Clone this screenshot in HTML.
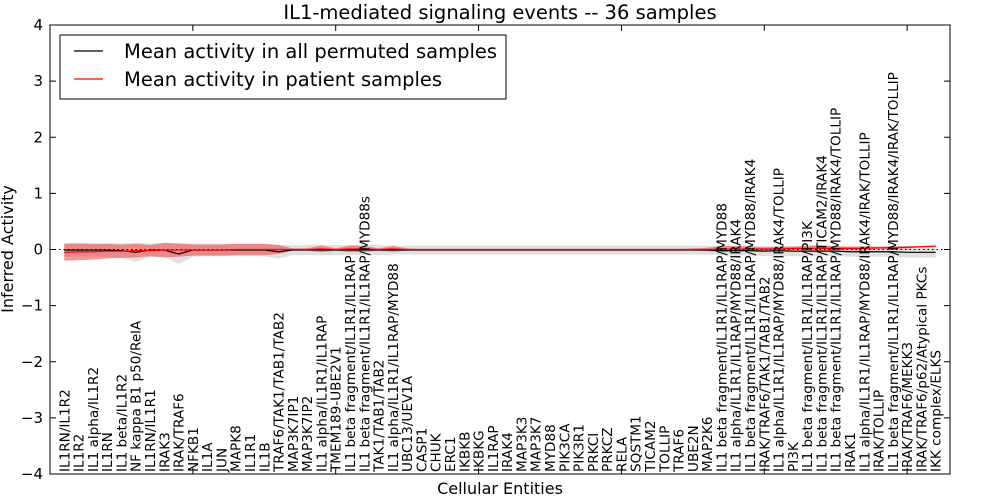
<!DOCTYPE html>
<html><head><meta charset="utf-8"><style>
body{margin:0;background:#fff}
svg{display:block;font-family:"DejaVu Sans","Liberation Sans",sans-serif}
</style></head><body>
<svg id="chart" width="1000" height="500">
<rect x="0" y="0" width="1000" height="500" fill="#fff"/>
<g id="plot"></g>
<rect x="50" y="25" width="900" height="449" fill="none" stroke="#000" stroke-width="1"/>
<g id="yticks"></g><g id="xticks"></g><g id="xlabels"></g>
<text x="500" y="19" text-anchor="middle" font-size="19.5">IL1-mediated signaling events -- 36 samples</text>
<text x="500" y="494" text-anchor="middle" font-size="16">Cellular Entities</text>
<text transform="translate(13,249) rotate(-90)" text-anchor="middle" font-size="16">Inferred Activity</text>
<g>
<rect x="60" y="35" width="446" height="64" fill="#fff" stroke="#000" stroke-width="1"/>
<line x1="74" y1="51" x2="103" y2="51" stroke="#000" stroke-width="1.2"/>
<text x="124" y="58" font-size="19.5">Mean activity in all permuted samples</text>
<line x1="74" y1="79" x2="103" y2="79" stroke="#f00" stroke-width="1.2"/>
<text x="124" y="86" font-size="19.5">Mean activity in patient samples</text>
</g>
</svg>
<script>
const categories=["IL1RN/IL1R2","IL1R2","IL1 alpha/IL1R2","IL1RN","IL1 beta/IL1R2","NF kappa B1 p50/RelA","IL1RN/IL1R1","IRAK3","IRAK/TRAF6","NFKB1","IL1A","JUN","MAPK8","IL1R1","IL1B","TRAF6/TAK1/TAB1/TAB2","MAP3K7IP1","MAP3K7IP2","IL1 alpha/IL1R1/IL1RAP","TMEM189-UBE2V1","IL1 beta fragment/IL1R1/IL1RAP","IL1 beta fragment/IL1R1/IL1RAP/MYD88s","TAK1/TAB1/TAB2","IL1 alpha/IL1R1/IL1RAP/MYD88","UBC13/UEV1A","CASP1","CHUK","ERC1","IKBKB","IKBKG","IL1RAP","IRAK4","MAP3K3","MAP3K7","MYD88","PIK3CA","PIK3R1","PRKCI","PRKCZ","RELA","SQSTM1","TICAM2","TOLLIP","TRAF6","UBE2N","MAP2K6","IL1 beta fragment/IL1R1/IL1RAP/MYD88","IL1 alpha/IL1R1/IL1RAP/MYD88/IRAK4","IL1 beta fragment/IL1R1/IL1RAP/MYD88/IRAK4","IRAK/TRAF6/TAK1/TAB1/TAB2","IL1 alpha/IL1R1/IL1RAP/MYD88/IRAK4/TOLLIP","PI3K","IL1 beta fragment/IL1R1/IL1RAP/PI3K","IL1 beta fragment/IL1R1/IL1RAP/TICAM2/IRAK4","IL1 beta fragment/IL1R1/IL1RAP/MYD88/IRAK4/TOLLIP","IRAK1","IL1 alpha/IL1R1/IL1RAP/MYD88/IRAK4/IRAK/TOLLIP","IRAK/TOLLIP","IL1 beta fragment/IL1R1/IL1RAP/MYD88/IRAK4/IRAK/TOLLIP","IRAK/TRAF6/MEKK3","IRAK/TRAF6/p62/Atypical PKCs","IKK complex/ELKS"];
const permMean=[-0.01,-0.01,-0.01,-0.01,-0.02,-0.05,-0.01,-0.01,-0.08,-0.01,-0.01,-0.01,-0.01,-0.01,-0.01,-0.04,-0.01,-0.01,-0.01,-0.01,-0.01,-0.01,-0.01,-0.01,-0.01,-0.01,-0.01,-0.01,-0.01,-0.01,-0.01,-0.01,-0.01,-0.01,-0.01,-0.01,-0.01,-0.01,-0.01,-0.01,-0.01,-0.01,-0.01,-0.01,-0.01,-0.01,-0.02,-0.02,-0.02,-0.03,-0.02,-0.03,-0.03,-0.03,-0.03,-0.04,-0.04,-0.04,-0.04,-0.05,-0.05,-0.05];
const permSpread=[0.12,0.12,0.12,0.12,0.13,0.17,0.12,0.12,0.18,0.12,0.11,0.11,0.11,0.11,0.11,0.12,0.09,0.09,0.09,0.09,0.09,0.09,0.09,0.08,0.08,0.08,0.08,0.08,0.08,0.08,0.08,0.08,0.08,0.08,0.08,0.08,0.08,0.08,0.08,0.08,0.08,0.08,0.08,0.08,0.08,0.08,0.08,0.09,0.09,0.09,0.09,0.09,0.09,0.09,0.09,0.09,0.09,0.09,0.09,0.1,0.1,0.1];
const patMean=[-0.05,-0.04,-0.04,-0.03,-0.03,-0.02,-0.02,-0.01,-0.01,-0.01,-0.01,-0.01,0,0,0,0,0,0,0.01,0,0.01,0.01,0,0.01,0,0,0,0,0,0,0,0,0,0,0,0,0,0,0,0,0,0,0,0,0,0,0.01,0.01,0.01,0.01,0.01,0.02,0.02,0.02,0.02,0.02,0.02,0.03,0.03,0.04,0.05,0.06];
const patSpread=[0.15,0.15,0.14,0.13,0.12,0.12,0.1,0.13,0.12,0.1,0.1,0.1,0.1,0.1,0.1,0.08,0.02,0.02,0.06,0.02,0.06,0.05,0.02,0.05,0.02,0.01,0.01,0.01,0.01,0.01,0.01,0.01,0.01,0.01,0.01,0.01,0.01,0.01,0.01,0.01,0.01,0.01,0.01,0.01,0.02,0.03,0.06,0.05,0.04,0.03,0.04,0.03,0.05,0.06,0.04,0.03,0.04,0.02,0.03,0.02,0.01,0.01];
const yTicks=[-4,-3,-2,-1,0,1,2,3,4];
const xTicks=[10,20,30,40,50,60];
const NS='http://www.w3.org/2000/svg';
const X0=50,X1=950,Y0=25,Y1=474;
function xs(i){return X0+(i)/63*(X1-X0);}
function ys(v){return Y1-(v+4)/8*(Y1-Y0);}
function mk(t,a,parent){const e=document.createElementNS(NS,t);for(const k in a)e.setAttribute(k,a[k]);parent.appendChild(e);return e;}
const plot=document.getElementById('plot');
function band(mean,spread,fill,op,name){
  let top=mean.map((m,i)=>xs(i+1)+','+ys(m+spread[i]));
  let bot=mean.map((m,i)=>xs(i+1)+','+ys(m-spread[i])).reverse();
  const p=mk('polygon',{points:top.concat(bot).join(' '),fill:fill,'fill-opacity':op},plot);
  
  
}
function line(mean,color,name){
  const p=mk('polyline',{points:mean.map((m,i)=>xs(i+1)+','+ys(m)).join(' '),fill:'none',stroke:color,'stroke-width':1.2},plot);
  
  
}
band(permMean,permSpread,'#bbbbbb',0.45,'permuted-band');
band(patMean,patSpread,'#f03030',0.5,'patient-band');
const z=mk('line',{x1:X0,x2:X1,y1:ys(0),y2:ys(0),stroke:'#000','stroke-dasharray':'1.5,3','stroke-width':1},plot);


line(permMean,'#000','permuted-mean-line');
line(patMean,'#f00','patient-mean-line');
const yg=document.getElementById('yticks');
yTicks.forEach(v=>{
  const y=ys(v);
  mk('line',{x1:X0,x2:X0+6,y1:y,y2:y,stroke:'#000'},yg);
  mk('line',{x1:X1-6,x2:X1,y1:y,y2:y,stroke:'#000'},yg);
  const t=mk('text',{x:X0-7,y:y+5,'text-anchor':'end','font-size':15},yg);
  t.textContent=(v<0?'\u2212':'')+Math.abs(v);
  
  
});
const xg=document.getElementById('xticks');
xTicks.forEach(v=>{
  const x=xs(v);
  mk('line',{x1:x,x2:x,y1:Y0,y2:Y0+6,stroke:'#000'},xg);
  mk('line',{x1:x,x2:x,y1:Y1-6,y2:Y1,stroke:'#000'},xg);
});
const xl=document.getElementById('xlabels');
categories.forEach((c,i)=>{
  const x=xs(i+1)+5;
  const t=mk('text',{transform:'translate('+x+','+(Y1-2)+') rotate(-90)','font-size':13.6},xl);
  t.textContent=c;
  
  
});
</script>
</body></html>
